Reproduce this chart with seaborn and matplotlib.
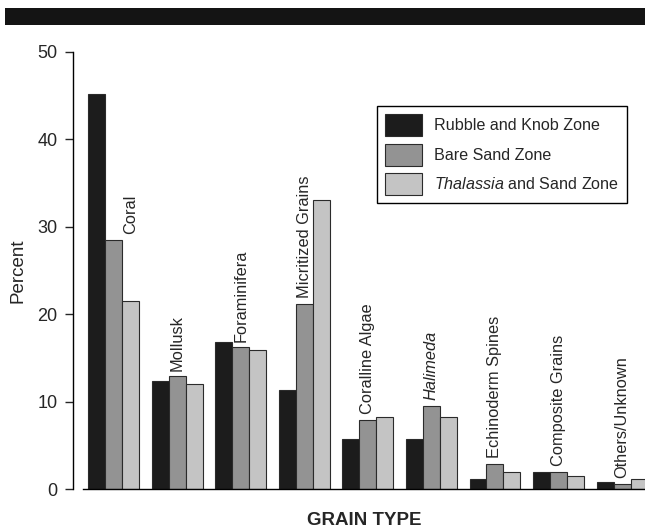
import matplotlib
matplotlib.use('Agg')
import matplotlib.pyplot as plt
from matplotlib.patches import Rectangle
import pandas as pd
import seaborn as sns

# Grain type categories and percentages per zone
grain_types = ['Coral', 'Mollusk', 'Foraminifera', 'Micritized Grains', 'Coralline Algae',
               'Halimeda', 'Echinoderm Spines', 'Composite Grains', 'Others/Unknown']
zones = ['Rubble and Knob Zone', 'Bare Sand Zone', 'Thalassia and Sand Zone']
rubble_knob = [45.2, 12.4, 16.8, 11.3, 5.7, 5.7, 1.1, 2.0, 0.8]
bare_sand = [28.5, 12.9, 16.2, 21.2, 7.9, 9.5, 2.9, 2.0, 0.6]
thalassia_sand = [21.5, 12.0, 15.9, 33.1, 8.2, 8.2, 1.9, 1.5, 1.1]

sns.set_style('white')
plt.rcParams['font.family'] = ['Liberation Sans', 'DejaVu Sans']
plt.rcParams['mathtext.fontset'] = 'custom'
plt.rcParams['mathtext.rm'] = 'Liberation Sans'
plt.rcParams['mathtext.it'] = 'Liberation Sans:italic'

# long form table for seaborn
df = pd.DataFrame({
    'grain': grain_types * 3,
    'zone': [zones[0]] * 9 + [zones[1]] * 9 + [zones[2]] * 9,
    'percent': rubble_knob + bare_sand + thalassia_sand,
})

fig = plt.figure(figsize=(6.45, 5.29), dpi=100)
ax = fig.add_axes([83 / 645, 40 / 529, 562 / 645, 437 / 529])

colors = ['#1c1c1c', '#939393', '#c4c4c4']
sns.barplot(data=df, x='grain', y='percent', hue='zone', order=grain_types, hue_order=zones,
            palette=colors, width=0.8, edgecolor='#2b2b2b', linewidth=0.8,
            saturation=1, errorbar=None, ax=ax)

ax.set_xlim(-0.48, 8.36)
ax.set_ylim(0, 50)
ax.set_yticks([0, 10, 20, 30, 40, 50])
ax.set_xticks([])
ax.tick_params(axis='y', direction='out', length=6, width=1, pad=5, labelsize=13, left=True)

# spines: left offset outward, bottom kept, others removed
sns.despine(ax=ax, top=True, right=True)
ax.spines['left'].set_position(('outward', 7.2))
ax.spines['left'].set_linewidth(1)
ax.spines['bottom'].set_linewidth(1)
ax.spines['left'].set_color('black')
ax.spines['bottom'].set_color('black')

ax.set_ylabel('Percent', fontsize=13.5, va='center')
ax.yaxis.set_label_coords(-0.116, 0.5)
ax.set_xlabel('GRAIN TYPE', fontsize=13.5, fontweight='bold', va='center')
ax.xaxis.set_label_coords(0.5, -0.073)

# category labels above the middle bar of each group
label_shift = {'Coral': 0.27}
for i, name in enumerate(grain_types):
    style = 'italic' if name == 'Halimeda' else 'normal'
    ax.annotate(name, xy=(i + label_shift.get(name, 0), bare_sand[i]),
                xytext=(0, 4), textcoords='offset points', rotation=90,
                ha='center', va='bottom', fontsize=11.8, fontstyle=style)

# legend
handles, _ = ax.get_legend_handles_labels()
legend_labels = ['Rubble and Knob Zone', 'Bare Sand Zone', r'$\it{Thalassia}$ and Sand Zone']
leg = ax.legend(handles, legend_labels, loc='upper left',
                bbox_to_anchor=(377 / 645, 1 - 106 / 529), bbox_transform=fig.transFigure,
                borderaxespad=0, fontsize=11.6, frameon=True, fancybox=False, shadow=False,
                handlelength=2.3, handleheight=1.75, labelspacing=0.45, handletextpad=0.75,
                borderpad=0.5)
leg.get_frame().set_edgecolor('black')
leg.get_frame().set_linewidth(1)
leg.get_frame().set_alpha(1)

# black band at the top of the page
fig.patches.append(Rectangle((5 / 645, 1 - 25 / 529), 1, 17 / 529, transform=fig.transFigure,
                             facecolor='#141414', edgecolor='none'))

fig.savefig('out.png', dpi=100)
